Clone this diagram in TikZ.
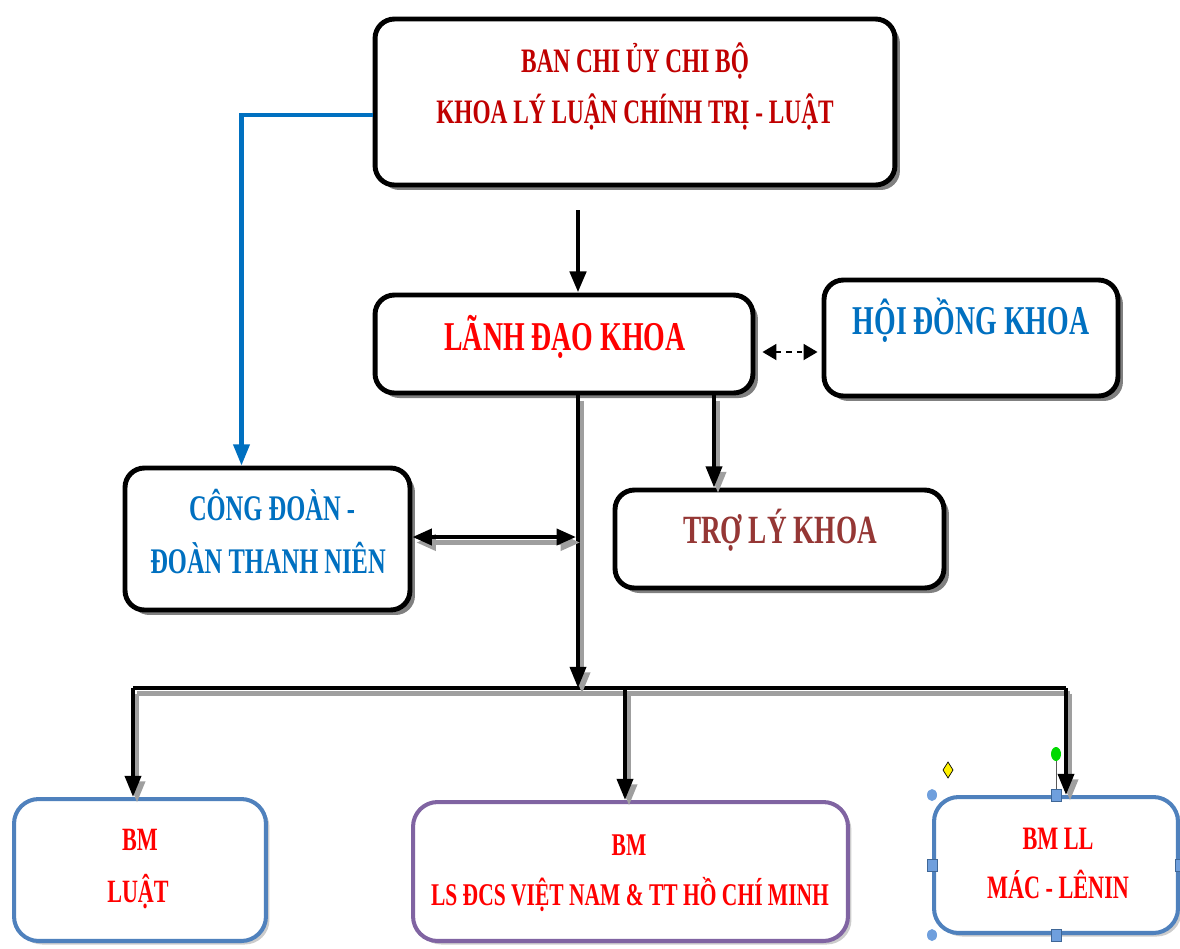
\documentclass[tikz,border=0pt]{standalone}
\usepackage{fontspec}
\newfontfamily\tnr{Liberation Serif}[FakeStretch=0.68]
\usepackage{tikz}
\usetikzlibrary{arrows.meta,calc,shadows}
\definecolor{dkred}{HTML}{C00000}
\definecolor{brred}{HTML}{953735}
\definecolor{txblue}{HTML}{0070C0}
\definecolor{bmblue}{HTML}{4F81BD}
\definecolor{bmpurple}{HTML}{8064A2}
\definecolor{handle}{HTML}{6F9FDD}
\tikzset{
  box/.style={draw=black,line width=2.8pt,rounded corners=11pt,fill=white,
    drop shadow={shadow xshift=0.1cm,shadow yshift=-0.1cm,fill=gray,opacity=1}},
  bmbox/.style={draw=#1,line width=2.3pt,rounded corners=14pt,fill=white,
    drop shadow={shadow xshift=0.07cm,shadow yshift=-0.07cm,fill=gray!40,opacity=1}},
  lbl/.style={inner sep=0pt,anchor=base,font=\tnr\bfseries\fontsize{#1}{#1}\selectfont},
  arr/.style={line width=2.3pt,-{Triangle[width=9pt,length=12pt]}},
  darr/.style={line width=2.3pt,{Triangle[width=9pt,length=11pt]}-{Triangle[width=9pt,length=11pt]}},
  shd/.style={preaction={#1,draw=gray!75,transform canvas={shift={(0.08cm,-0.11cm)}}}},
  shd/.default={line width=2.8pt},
}
\begin{document}
\begin{tikzpicture}[x=0.02cm,y=-0.02cm]
\useasboundingbox (0,0) rectangle (1180,948);
% boxes
\node[box,minimum width=10.4cm,minimum height=3.32cm] (ban) at (635,102) {};
\node[box,minimum width=7.56cm,minimum height=1.96cm] (ldk) at (564,344) {};
\node[box,minimum width=5.88cm,minimum height=2.32cm] (hdk) at (971,338) {};
\node[box,minimum width=5.7cm,minimum height=2.84cm] (cd) at (267.5,539) {};
\node[box,minimum width=6.58cm,minimum height=1.96cm] (tlk) at (779.5,539) {};
\node[bmbox=bmblue,minimum width=5.04cm,minimum height=2.84cm] (bml) at (140,870) {};
\node[bmbox=bmpurple,minimum width=8.7cm,minimum height=2.78cm] (bmls) at (630.5,871.5) {};
\node[bmbox=bmblue,minimum width=4.88cm,minimum height=2.72cm] (bmm) at (1056,865) {};
% texts
\node[lbl=19.5pt,text=dkred] (ban-1) at (635,72) {BAN CHI ỦY CHI BỘ};
\node[lbl=19.5pt,text=dkred] (ban-2) at (635,123) {KHOA LÝ LUẬN CHÍNH TRỊ - LUẬT};
\node[lbl=23.3pt,text=red] (ldk-t) at (565,350) {LÃNH ĐẠO KHOA};
\node[lbl=23.3pt,text=txblue] (hdk-t) at (971,334) {HỘI ĐỒNG KHOA};
\node[lbl=20.5pt,text=txblue] (cd-1) at (272,520) {CÔNG ĐOÀN -};
\node[lbl=20.5pt,text=txblue] (cd-2) at (268,573) {ĐOÀN THANH NIÊN};
\node[lbl=22.8pt,text=brred] (tlk-t) at (780,543) {TRỢ LÝ KHOA};
\node[lbl=18.5pt,text=red] (bml-1) at (140,850) {BM};
\node[lbl=18.5pt,text=red] (bml-2) at (138,902) {LUẬT};
\node[lbl=18pt,text=red] (bmls-1) at (629,855) {BM};
\node[lbl=18pt,text=red] (bmls-2) at (630,905) {LS ĐCS VIỆT NAM \& TT HỒ CHÍ MINH};
\node[lbl=18.6pt,text=red] (bmm-1) at (1058,849) {BM LL};
\node[lbl=18.6pt,text=red] (bmm-2) at (1058,898) {MÁC - LÊNIN};
% connectors
\coordinate (tk) at (578,688);
\coordinate (tc) at (714,0);
\coordinate (cj) at (576,537);
\coordinate (busL) at (133,688);
\coordinate (busM) at (625,688);
\coordinate (busR) at (1066,688);
\draw[arr,draw=txblue] ($(ban.west)+(0,13)$) -| ($(cd.north)+(-26,0)$);
\draw[arr,line width=2.8pt] ($(ban.south -| tk)+(0,23)$) -- (ldk.north -| tk);
\draw[line width=1.4pt,dash pattern=on 3pt off 3pt,
  {Triangle[width=9pt,length=8pt]}-{Triangle[width=9pt,length=8pt]}]
  ($(ldk.east)+(7,8)$) -- ($(ldk.east -| hdk.west)+(-4,8)$);
\draw[arr,shd=arr] (ldk.south -| tc) -- (tlk.north -| tc);
\draw[line width=2.8pt,shd] (busL) -- (busR);
\draw[arr,shd=arr] (ldk.south -| tk) -- (tk);
\draw[darr,shd=darr] (cd.east |- cj) -- (cj);
\draw[arr,shd=arr] (busL) -- (busL |- bml.north);
\draw[arr,shd=arr] (busM) -- (busM |- bmls.north);
\draw[arr,shd=arr] (busR) -- (busR |- bmm.north);
% selection handles
\draw[thin,gray!70!black] (bmm.north) -- ++(0,-41) coordinate (rot);
\fill[green!85!black] (rot) ellipse (5 and 7);
\draw[black,fill=yellow,thin] ($(bmm.north west)+(16,-25)$) +(0,-8) -- +(5,0) -- +(0,8) -- +(-5,0) -- cycle;
\foreach \a in {north west,south west}
  \fill[handle] (bmm.\a) ellipse (5 and 6);
\foreach \a in {north,west,south,east}
  \draw[bmblue!80!black,fill=handle,thin] ($(bmm.\a)+(-5,-6)$) rectangle ($(bmm.\a)+(5,6)$);
\end{tikzpicture}
\end{document}
